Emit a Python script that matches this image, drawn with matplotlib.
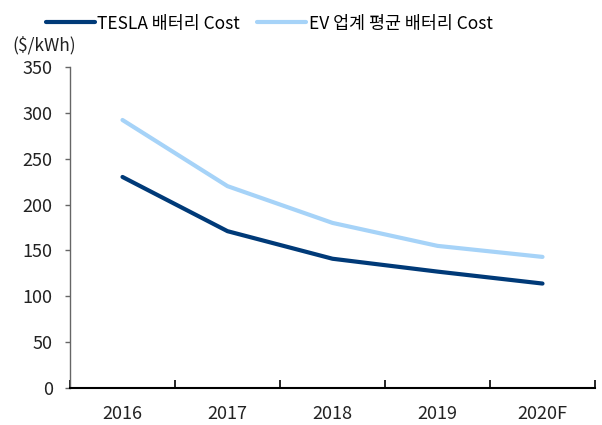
import matplotlib
matplotlib.use("Agg")
import matplotlib.pyplot as plt

plt.rcParams['font.family'] = ['Noto Sans CJK KR', 'DejaVu Sans']

categories = ["2016", "2017", "2018", "2019", "2020F"]
tesla = [230, 171, 141, 127, 114]
ev_avg = [292, 220, 180, 155, 143]
yticks = [0, 50, 100, 150, 200, 250, 300, 350]

fig = plt.figure(figsize=(6.02, 4.25), dpi=100)
ax = fig.add_axes([70/602, 1-388.3/425, 525/602, 321.6/425])

x = list(range(len(categories)))
l1, = ax.plot(x, tesla, color="#003A78", lw=3.0, solid_capstyle="round",
              label="TESLA 배터리 Cost")
l2, = ax.plot(x, ev_avg, color="#A6D3F8", lw=3.0, solid_capstyle="round",
              label="EV 업계 평균 배터리 Cost")

ax.set_xlim(-0.5, len(categories) - 0.5)
ax.set_ylim(0, 350)
ax.set_yticks(yticks)
ax.set_yticklabels([str(v) for v in yticks], fontsize=13, color="#222222")
ax.set_xticks(x)
ax.set_xticklabels(categories, fontsize=13, color="#222222")
ax.tick_params(axis='x', length=0, pad=12)
ax.set_xticks([i + 0.5 for i in range(-1, len(categories))], minor=True)
ax.tick_params(axis='x', which='minor', direction='in', length=6, width=1.2, color='black')
ax.tick_params(axis='y', direction='out', length=3.5, width=1, color='#666666', pad=9)

for s in ['top', 'right']:
    ax.spines[s].set_visible(False)
ax.spines['left'].set_color('#666666')
ax.spines['left'].set_linewidth(1)
ax.spines['bottom'].set_color('black')
ax.spines['bottom'].set_linewidth(1.5)

fig.text(12/602, 1-45/425, "($/kWh)", fontsize=12.5, color="#222222", va='center', ha='left')

fig.legend(handles=[l1, l2], loc='center left', bbox_to_anchor=(46/602, 1-23.5/425),
           ncol=2, frameon=False, fontsize=12.5, handlelength=2.8,
           handletextpad=0.15, columnspacing=1.0, borderaxespad=0, borderpad=0)

fig.savefig("out.png", dpi=100)
